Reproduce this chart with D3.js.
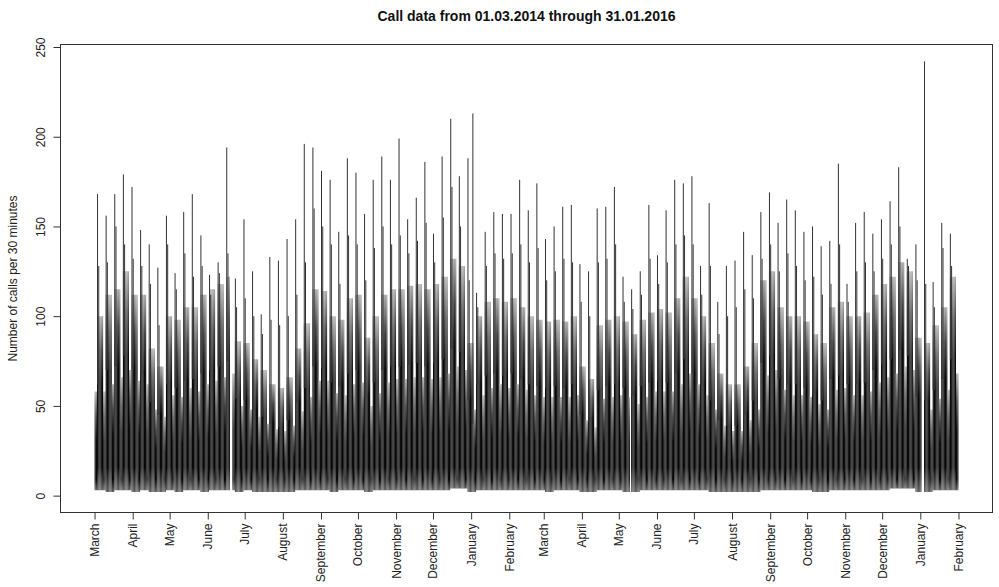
<!DOCTYPE html>
<html>
<head>
<meta charset="utf-8">
<script src="https://cdn.jsdelivr.net/npm/d3@7"></script>
<style>
  body { margin: 0; background: #fff; }
  svg { display: block; font-family: "Liberation Sans", Arial, Helvetica, sans-serif; }
</style>
</head>
<body>
<svg id="chart" width="999" height="587"></svg>
<script>
// Weekly summaries of the half-hourly call counts, one entry per week
// starting Monday 03.03.2014 (the two days before it belong to week 0).

// Highest half-hour count of the week (Monday morning rush)
const weekPeak = [168,156,168,179,172,148,140,127,156,124,158,168,145,123,130,194,121,154,125,101,
                  133,131,143,154,196,194,181,176,147,188,180,157,176,189,176,199,154,166,186,146,
                  189,210,178,188,113,147,158,157,157,176,159,174,143,150,161,162,129,125,160,161,
                  172,122,115,125,162,134,159,176,174,178,128,163,108,128,131,147,134,158,169,152,
                  165,159,147,150,139,142,185,118,152,158,146,154,164,183,132,140,242,119,152,146];
// Second-highest half-hour count (Tuesday)
const weekSecond = [128,130,150,140,132,128,118,95,140,115,135,122,128,112,124,135,105,110,100,90,
                    98,95,100,112,130,160,150,140,118,145,140,120,138,150,140,145,135,142,152,130,
                    155,172,150,120,105,128,135,132,135,140,130,138,120,125,132,130,108,100,130,132,
                    140,108,104,112,132,118,130,140,145,140,112,128,90,100,105,115,110,132,140,125,
                    135,128,120,122,112,118,140,108,125,130,125,132,140,150,128,120,118,105,138,128];
// Typical daily high on weekdays
const weekTop = [100,112,115,125,112,112,82,72,100,98,105,105,112,115,118,122,86,85,76,70,
                 62,60,66,82,96,115,114,100,98,110,112,88,100,112,115,115,117,118,115,118,
                 122,132,128,85,100,108,110,108,110,105,100,98,97,98,97,100,72,65,95,98,
                 100,97,90,98,102,104,102,110,122,110,100,85,68,62,62,72,85,120,125,105,
                 100,100,97,90,85,105,108,100,100,102,112,118,122,130,125,88,85,95,105,122];
// Upper edge of the busy daytime level on weekdays
const weekCore = [62,70,72,78,70,68,52,45,62,60,64,65,68,70,72,75,54,53,48,44,
                  40,38,42,52,60,72,71,63,61,68,70,55,63,70,72,72,73,74,72,74,
                  76,82,80,53,62,67,68,67,68,65,62,61,60,61,60,62,45,41,59,61,
                  62,60,56,61,63,64,63,68,76,68,62,53,42,39,39,45,53,74,78,65,
                  62,62,60,56,53,65,67,62,62,63,70,73,76,81,78,55,53,59,65,76];
// Daily high on Saturday and Sunday
const weekendTop = [58,62,66,70,64,62,48,44,56,55,60,58,62,64,66,68,50,48,44,40,
                    37,36,39,47,55,64,64,57,56,62,63,50,57,63,65,65,66,66,65,66,
                    68,72,70,48,56,60,62,60,62,59,56,55,55,55,55,56,42,38,54,55,
                    56,55,51,55,58,58,58,62,68,62,56,48,39,36,36,42,48,67,70,59,
                    56,56,55,51,48,59,60,56,56,58,63,66,68,72,70,50,48,54,59,68];
// Busy level on Saturday and Sunday
const weekendCore = [30,34,35,38,34,33,26,24,30,29,31,30,33,34,35,36,27,26,24,22,
                     20,19,21,25,29,34,34,30,29,33,33,27,30,33,34,34,35,35,34,35,
                     36,38,37,26,30,32,33,32,33,31,30,29,29,29,29,30,23,21,29,29,
                     30,29,27,29,30,31,30,33,36,33,30,26,21,19,19,23,26,35,37,31,
                     30,30,29,27,26,31,32,30,30,30,33,35,36,38,37,27,26,29,31,36];
// Night-time minimum
const weekLow = [3,2,3,3,2,3,2,2,3,2,3,3,2,3,3,3,2,3,2,2,
                 2,2,2,3,3,3,3,2,3,3,3,2,3,3,3,3,3,3,3,3,
                 3,4,4,2,3,3,3,3,3,3,3,3,2,3,3,3,2,2,3,3,
                 3,2,2,3,3,3,3,3,3,3,3,2,2,2,2,2,2,3,3,3,
                 3,3,3,2,2,3,3,3,3,3,3,3,4,4,4,2,2,3,3,3];
// Lower edge of the busy level (weekday, weekend)
const coreFloor = [16, 9];
// Single outliers outside the Monday pattern
const extraSpikes = [{ date: "2015-01-02", value: 213 }];
// Days without recorded data
const gapDays = ["2014-06-19", "2014-06-20", "2015-05-10", "2016-01-02", "2016-01-03"];

const yTicks = [0, 50, 100, 150, 200, 250];
const monthNames = ["January","February","March","April","May","June","July",
                    "August","September","October","November","December"];

const DAY = 864e5;
const dataStart = Date.UTC(2014, 2, 1);
const dataEnd = Date.UTC(2016, 0, 31, 23, 30);
const firstMonday = Date.UTC(2014, 2, 3);

const svg = d3.select("#chart");
const defs = svg.append("defs");
const box = { left: 60, right: 993, top: 44, bottom: 513 };

// R-style 4% padding around the data range
const xPad = (dataEnd - dataStart) * 0.04;
const x = d3.scaleUtc()
  .domain([new Date(dataStart - xPad), new Date(dataEnd + xPad)])
  .range([box.left, box.right]);
const yMax = d3.max(weekPeak.concat(extraSpikes.map(d => d.value)));
const yMin = 0;
const yPad = (yMax - yMin) * 0.04;
const y = d3.scaleLinear()
  .domain([yMin - yPad, yMax + yPad])
  .range([box.bottom, box.top]);

// Per-week profiles for weekdays and weekends
const profiles = [];
weekPeak.forEach((_, w) => {
  profiles.push({ id: `wd${w}`, low: weekLow[w], coreLow: coreFloor[0], core: weekCore[w], top: weekTop[w] });
  profiles.push({ id: `we${w}`, low: weekLow[w], coreLow: coreFloor[1], core: weekendCore[w], top: weekendTop[w] });
});

// each profile gets a vertical shade: grey night strands, black busy level, fading top
defs.selectAll("linearGradient").data(profiles).join("linearGradient")
  .attr("id", p => `g-${p.id}`)
  .attr("gradientUnits", "userSpaceOnUse")
  .attr("x1", 0).attr("x2", 0)
  .attr("y1", p => y(p.low)).attr("y2", p => y(p.top))
  .selectAll("stop")
  .data(p => {
    const off = v => (v - p.low) / (p.top - p.low);
    return [
      { o: 0, c: "#626262" },
      { o: off(p.coreLow), c: "#050505" },
      { o: off(p.core), c: "#0a0a0a" },
      { o: off(p.core + (p.top - p.core) * 0.5), c: "#454545" },
      { o: 1, c: "#ababab" }
    ];
  })
  .join("stop")
  .attr("offset", s => s.o)
  .attr("stop-color", s => s.c);

// One record per day
const gapSet = new Set(gapDays);
const fmtDay = d3.utcFormat("%Y-%m-%d");
const weekOf = d => Math.max(0, Math.min(weekPeak.length - 1, Math.floor((d - firstMonday) / (7 * DAY))));
const days = d3.utcDay.range(new Date(dataStart), new Date(dataEnd))
  .filter(d => !gapSet.has(fmtDay(d)))
  .map(d => {
    const w = weekOf(d);
    const weekend = d.getUTCDay() === 0 || d.getUTCDay() === 6;
    return { mid: new Date(+d + DAY / 2), profile: profiles[w * 2 + (weekend ? 1 : 0)] };
  });

const plot = svg.append("g");

// daily range, night minimum to daytime high
plot.selectAll("line.day").data(days).join("line")
  .attr("class", "day")
  .attr("x1", d => x(d.mid)).attr("x2", d => x(d.mid))
  .attr("y1", d => y(d.profile.low)).attr("y2", d => y(d.profile.top))
  .attr("stroke", d => `url(#g-${d.profile.id})`)
  .attr("stroke-width", 1.2);

// weekly peak (Monday) and runner-up (Tuesday) half-hours
const spikes = weekPeak.map((v, i) => ({
  date: new Date(firstMonday + i * 7 * DAY + 10 * 3600e3), value: v, base: weekCore[i]
})).concat(weekSecond.map((v, i) => ({
  date: new Date(firstMonday + (i * 7 + 1) * DAY + 10 * 3600e3), value: v, base: weekCore[i]
}))).concat(extraSpikes.map(s => ({
  date: new Date(Date.parse(s.date + "T10:00:00Z")), value: s.value, base: 40
}))).filter(s => !gapSet.has(fmtDay(s.date)));

plot.selectAll("line.spike").data(spikes).join("line")
  .attr("class", "spike")
  .attr("x1", d => x(d.date)).attr("x2", d => x(d.date))
  .attr("y1", d => y(d.base)).attr("y2", d => y(d.value))
  .attr("stroke", "#333").attr("stroke-width", 1);

// frame
svg.append("rect")
  .attr("x", box.left + 0.5).attr("y", box.top + 0.5)
  .attr("width", box.right - box.left - 1).attr("height", box.bottom - box.top - 1)
  .attr("fill", "none").attr("stroke", "#333").attr("stroke-width", 1);

// y axis
const yAxis = svg.append("g")
  .attr("transform", `translate(${box.left + 0.5},0)`)
  .call(d3.axisLeft(y).tickValues(yTicks).tickSize(7).tickFormat(d3.format("d")));
yAxis.select(".domain").remove();
yAxis.append("line")
  .attr("x1", 0).attr("x2", 0)
  .attr("y1", y(yTicks[0])).attr("y2", y(yTicks[yTicks.length - 1]))
  .attr("stroke", "#333");
yAxis.selectAll(".tick line").attr("stroke", "#333");
yAxis.selectAll(".tick text")
  .attr("x", null).attr("dy", null)
  .attr("transform", "translate(-16,0) rotate(-90)")
  .attr("text-anchor", "middle")
  .attr("fill", "#222")
  .style("font-size", "12px");

// x axis: first of each month
const monthTicks = d3.utcMonth.range(new Date(dataStart), new Date(Date.UTC(2016, 1, 2)));
const xAxis = svg.append("g")
  .attr("transform", `translate(0,${box.bottom - 0.5})`)
  .call(d3.axisBottom(x).tickValues(monthTicks).tickSize(7)
    .tickFormat(d => monthNames[d.getUTCMonth()]));
xAxis.select(".domain").remove();
xAxis.append("line")
  .attr("x1", x(monthTicks[0])).attr("x2", x(monthTicks[monthTicks.length - 1]))
  .attr("y1", 0).attr("y2", 0).attr("stroke", "#333");
xAxis.selectAll(".tick line").attr("stroke", "#333");
xAxis.selectAll(".tick text")
  .attr("y", null).attr("dy", null)
  .attr("transform", "translate(4,11) rotate(-90)")
  .attr("text-anchor", "end")
  .attr("fill", "#222")
  .style("font-size", "12px");

// titles
svg.append("text")
  .attr("x", (box.left + box.right) / 2).attr("y", 21)
  .attr("text-anchor", "middle")
  .style("font-size", "14px").style("font-weight", "bold")
  .attr("fill", "#111")
  .text("Call data from 01.03.2014 through 31.01.2016");

svg.append("text")
  .attr("transform", `translate(17,${(box.top + box.bottom) / 2}) rotate(-90)`)
  .attr("text-anchor", "middle")
  .style("font-size", "12px")
  .attr("fill", "#222")
  .text("Number of calls per 30 minutes");
</script>
</body>
</html>
